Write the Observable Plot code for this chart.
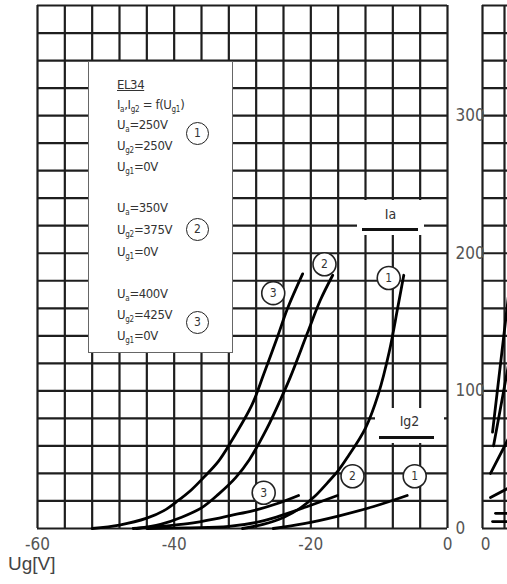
<!DOCTYPE html>
<html>
<head>
<meta charset="utf-8">
<script src="https://cdn.jsdelivr.net/npm/d3@7"></script>
<script src="https://cdn.jsdelivr.net/npm/@observablehq/plot@0.6"></script>
<style>
  html, body { margin: 0; padding: 0; overflow: hidden; background: #fff; }
  #wrap { position: relative; width: 507px; height: 584px; overflow: hidden;
          font-family: "Liberation Sans Narrow", "DejaVu Sans Condensed", "Liberation Sans", sans-serif; color: #333; }
  .abs { position: absolute; }
  #legend { left: 88px; top: 61px; width: 143px; height: 290px; background: #fff; border: 1px solid #666; }
  #legend .ln { position: absolute; left: 28px; font-size: 13px; line-height: 13px; letter-spacing: -0.4px; white-space: nowrap; color: #333; }
  #legend sub { font-size: 8px; vertical-align: -3px; line-height: 0; letter-spacing: -0.2px; }
  .circ { position: absolute; width: 21px; height: 21px; border: 1.6px solid #222; border-radius: 50%;
          font-size: 12px; line-height: 21px; text-align: center; color: #333; background: #fff; }
  .tag { background: #fff; }
  .bar { background: #111; height: 3px; }
  #ulabel { left: 8px; top: 553px; font-family: "Liberation Sans", Arial, sans-serif; font-size: 19px; color: #444; }
</style>
</head>
<body>
<div id="wrap"></div>
<script>
// ---- grid / axis values ----
const gridUg = [-60, -56, -52, -48, -44, -40, -36, -32, -28, -24, -20, -16, -12, -8, -4, 0];
const gridI = [0, 20, 40, 60, 80, 100, 120, 140, 160, 180, 200, 220, 240, 260, 280, 300, 320, 340, 360, 380];
const xTicks = [-60, -40, -20, 0];
const yTicks = [0, 100, 200, 300];

// ---- Ia curves (Ug1 in V, Ia in mA) ----
const ia1Ug = [-30, -27, -24, -21.5, -19.5, -17.6, -16, -14.6, -12, -10.1, -8.5, -7.3, -6.4];
const ia1I  = [0, 3, 8, 15, 23, 33, 42, 52, 73, 98, 129, 160, 184];
const ia2Ug = [-45.5, -42, -39, -36, -33.5, -31, -29, -26.5, -24.5, -23, -20.5, -18.6, -16.8];
const ia2I  = [0, 3, 8, 15, 25, 37, 50, 72, 93, 110, 142, 166, 184];
const ia3Ug = [-52, -48, -44, -41.5, -39.5, -37.5, -35.7, -33.5, -31.8, -28.6, -26.9, -24.9, -23.4, -21.2];
const ia3I  = [0, 2.5, 7.5, 13, 20, 28, 37, 49, 62, 90, 112, 139, 160, 185];

// ---- Ig2 curves ----
const ig21Ug = [-25.5, -21, -15.7, -10.8, -5.9];
const ig21I  = [0, 3.5, 9.4, 16, 24];
const ig22Ug = [-44, -38, -32, -27, -23.4, -20.5, -16.1];
const ig22I  = [0, 0.5, 1.5, 5.5, 11, 16, 24];
const ig23Ug = [-46, -42, -38, -34, -31.8, -28.4, -25, -21.8];
const ig23I  = [0, 1.5, 3.5, 7, 9.4, 13, 18, 24];

// ---- circled curve numbers (data coordinates) ----
const markNum = ["1", "2", "3", "1", "2", "3"];
const markUg  = [-8.6, -18.0, -25.5, -4.8, -13.9, -26.9];
const markI   = [182, 192, 171, 38, 38, 26];

// ---- right (cropped) panel: Ia = f(Ua) ----
const sideGridUa = [0, 25, 50, 75, 100];
const sideUaA = [11.4, 28.4, 40]; const sideIA = [70, 163, 227];
const sideUaB = [12.5, 28.4, 40]; const sideIB = [60, 115, 155];
const sideUaC = [9.1, 28.4, 40];  const sideIC = [40, 64, 78];
const sideUaD = [9.1, 28.4, 40];  const sideID = [22.5, 29, 33];
const sideUaE = [14.8, 40];       const sideIE = [11, 11];
const sideUaF = [11.4, 40];       const sideIF = [5, 5];

// ---- build tables ----
const toRows = (name, xs, ys) => xs.map((x, k) => ({curve: name, ug: x, i: ys[k]}));
const iaRows = [...toRows("1", ia1Ug, ia1I), ...toRows("2", ia2Ug, ia2I), ...toRows("3", ia3Ug, ia3I)];
const ig2Rows = [...toRows("1", ig21Ug, ig21I), ...toRows("2", ig22Ug, ig22I), ...toRows("3", ig23Ug, ig23I)];
const markRows = markNum.map((n, k) => ({n, ug: markUg[k], i: markI[k]}));
const sideRows = [
  ...toRows("A", sideUaA, sideIA), ...toRows("B", sideUaB, sideIB), ...toRows("C", sideUaC, sideIC),
  ...toRows("D", sideUaD, sideID), ...toRows("E", sideUaE, sideIE), ...toRows("F", sideUaF, sideIF)
];

const FONT = '"Liberation Sans Narrow", "DejaVu Sans Condensed", "Liberation Sans", sans-serif';
const GRID = "#1e1e1e";

const main = Plot.plot({
  width: 507, height: 584,
  marginLeft: 37, marginRight: 60, marginTop: 5, marginBottom: 56,
  x: {domain: [-60, 0]},
  y: {domain: [0, 380]},
  style: {background: "transparent", fontFamily: FONT, fontSize: "17px", color: "#555", overflow: "visible"},
  marks: [
    Plot.ruleX(gridUg, {stroke: GRID, strokeWidth: 2.2}),
    Plot.ruleY(gridI, {stroke: GRID, strokeWidth: 2.2}),
    Plot.line(iaRows, {x: "ug", y: "i", z: "curve", curve: "catmull-rom", stroke: "#000", strokeWidth: 2.8}),
    Plot.line(ig2Rows, {x: "ug", y: "i", z: "curve", curve: "catmull-rom", stroke: "#000", strokeWidth: 2.8}),
    Plot.dot(markRows, {x: "ug", y: "i", r: 11.5, fill: "#fff", stroke: "#222", strokeWidth: 1.6}),
    Plot.text(markRows, {x: "ug", y: "i", text: "n", fontSize: 12, fill: "#333"}),
    Plot.axisX({ticks: xTicks, tickSize: 0, tickPadding: 9, label: null, tickFormat: d => String(d)}),
    Plot.axisY({anchor: "right", ticks: yTicks, tickSize: 0, tickPadding: 8, label: null, tickFormat: d => String(d)})
  ]
});

const side = Plot.plot({
  width: 120, height: 584,
  marginLeft: 12, marginRight: 20, marginTop: 5, marginBottom: 56,
  x: {domain: [0, 100]},
  y: {domain: [0, 380], axis: null},
  style: {background: "transparent", fontFamily: FONT, fontSize: "17px", color: "#555", overflow: "visible"},
  marks: [
    Plot.ruleX(sideGridUa, {stroke: GRID, strokeWidth: 2.2}),
    Plot.ruleY(gridI, {stroke: GRID, strokeWidth: 2.2}),
    Plot.line(sideRows, {x: "ug", y: "i", z: "curve", stroke: "#000", strokeWidth: 2.8}),
    Plot.axisX({ticks: [0], tickSize: 0, tickPadding: 9, label: null, dx: 3})
  ]
});

const wrap = document.getElementById("wrap");
main.classList.add("abs"); main.style.left = "0px"; main.style.top = "0px";
side.classList.add("abs"); side.style.left = "470px"; side.style.top = "0px"; side.style.maxWidth = "none";
wrap.appendChild(side);
wrap.appendChild(main);

// ---- legend and annotations ----
const legendLines = [
  ['<span style="text-decoration:underline">EL34</span>', 16],
  ['I<sub>a</sub>,I<sub>g2</sub> = f(U<sub>g1</sub>)', 36],
  ['U<sub>a</sub>=250V', 56],
  ['U<sub>g2</sub>=250V', 77],
  ['U<sub>g1</sub>=0V', 98],
  ['U<sub>a</sub>=350V', 139],
  ['U<sub>g2</sub>=375V', 161],
  ['U<sub>g1</sub>=0V', 183],
  ['U<sub>a</sub>=400V', 225],
  ['U<sub>g2</sub>=425V', 246],
  ['U<sub>g1</sub>=0V', 267]
];
const legendCircles = [["1", 72], ["2", 168], ["3", 261]];
const lg = document.createElement("div");
lg.id = "legend"; lg.className = "abs";
lg.innerHTML = legendLines.map(([t, y]) => `<div class="ln" style="top:${y}px">${t}</div>`).join("") +
  legendCircles.map(([n, y]) => `<div class="circ" style="left:97px;top:${y - 12}px">${n}</div>`).join("");
wrap.appendChild(lg);

const ann = document.createElement("div");
ann.innerHTML = `
  <div class="abs tag" style="left:357px;top:200px;width:67px;height:35px;"></div>
  <div class="abs" style="left:357px;top:206px;width:67px;text-align:center;font-size:14px;color:#333;">Ia</div>
  <div class="abs bar" style="left:362px;top:228px;width:56px;"></div>
  <div class="abs tag" style="left:375px;top:408px;width:69px;height:35px;"></div>
  <div class="abs" style="left:375px;top:413px;width:69px;text-align:center;font-size:14px;color:#333;">Ig2</div>
  <div class="abs bar" style="left:379px;top:436px;width:55px;"></div>
  <div id="ulabel" class="abs">Ug[V]</div>`;
wrap.appendChild(ann);
</script>
</body>
</html>
